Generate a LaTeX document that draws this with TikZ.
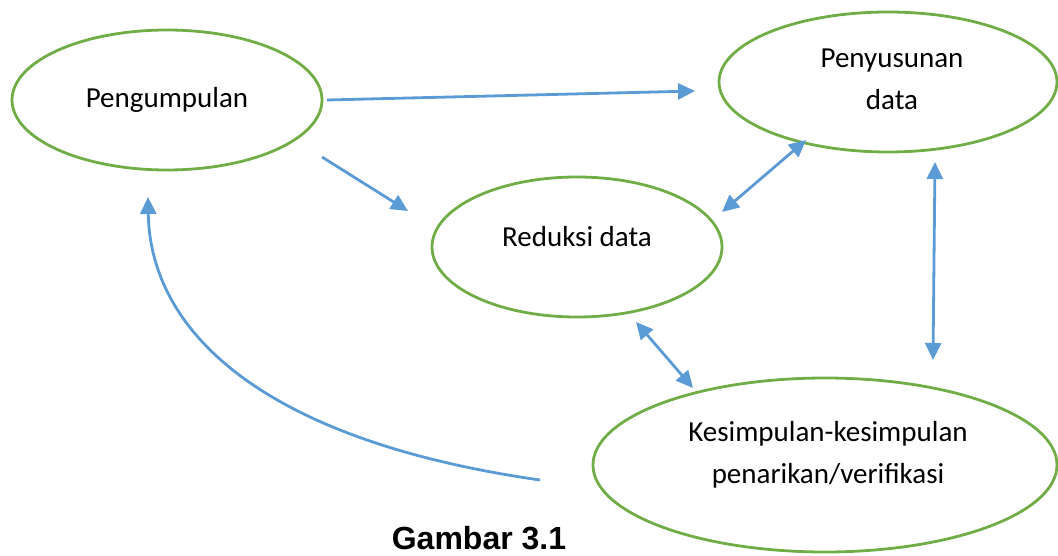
\documentclass[tikz,border=0pt]{standalone}
\usepackage{fontspec}
\setmainfont{Carlito}
\newfontfamily\capfont{Liberation Sans}
\usetikzlibrary{arrows.meta}
\definecolor{egreen}{RGB}{112,173,71}
\definecolor{ablue}{RGB}{91,155,213}
\tikzset{
  ellline/.style={draw=egreen, line width=2.8pt},
  lbl/.style={font=\fontsize{29}{42}\selectfont, align=center, inner sep=0pt},
  conn/.style={draw=ablue, line width=2.8pt, -{Triangle[length=17pt,width=16pt]}},
  dconn/.style={draw=ablue, line width=2.8pt, {Triangle[length=17pt,width=16pt]}-{Triangle[length=17pt,width=16pt]}}
}
\begin{document}
\begin{tikzpicture}[x=1pt,y=-1pt]
\useasboundingbox (0,0) rectangle (1058,556);
\draw[ellline] (167,100) ellipse [x radius=155, y radius=70];
\node[lbl] (pe) at (167,100) {Pengumpulan};
\draw[ellline] (888,82) ellipse [x radius=169, y radius=70];
\node[lbl] (py) at (892,79) {Penyusunan\\data};
\draw[ellline] (577,247) ellipse [x radius=145, y radius=70];
\node[lbl] (re) at (577,237) {Reduksi data};
\draw[ellline] (825,465) ellipse [x radius=232, y radius=87];
\node[lbl] (ke) at (828,455) {Kesimpulan-kesimpulan\\penarikan/verifikasi};
\node[font=\capfont\bfseries\fontsize{32}{36}\selectfont, inner sep=0pt] (cap) at (479,538) {Gambar 3.1};
\coordinate (a1s) at (327,100); \coordinate (a1e) at (695,91);
\coordinate (a2s) at (322,157); \coordinate (a2e) at (408,211);
\coordinate (a3s) at (722,212); \coordinate (a3e) at (806,140);
\coordinate (a4s) at (935,162); \coordinate (a4e) at (933,360);
\coordinate (a5s) at (636,322); \coordinate (a5e) at (693,388);
\coordinate (a6s) at (540,480); \coordinate (a6e) at (148,197);
\draw[conn] (a1s) -- (a1e);
\draw[conn] (a2s) -- (a2e);
\draw[dconn] (a3s) -- (a3e);
\draw[dconn] (a4s) -- (a4e);
\draw[dconn] (a5s) -- (a5e);
\draw[conn] (a6s) .. controls (260,440) and (150,330) .. (a6e);
\end{tikzpicture}
\end{document}
